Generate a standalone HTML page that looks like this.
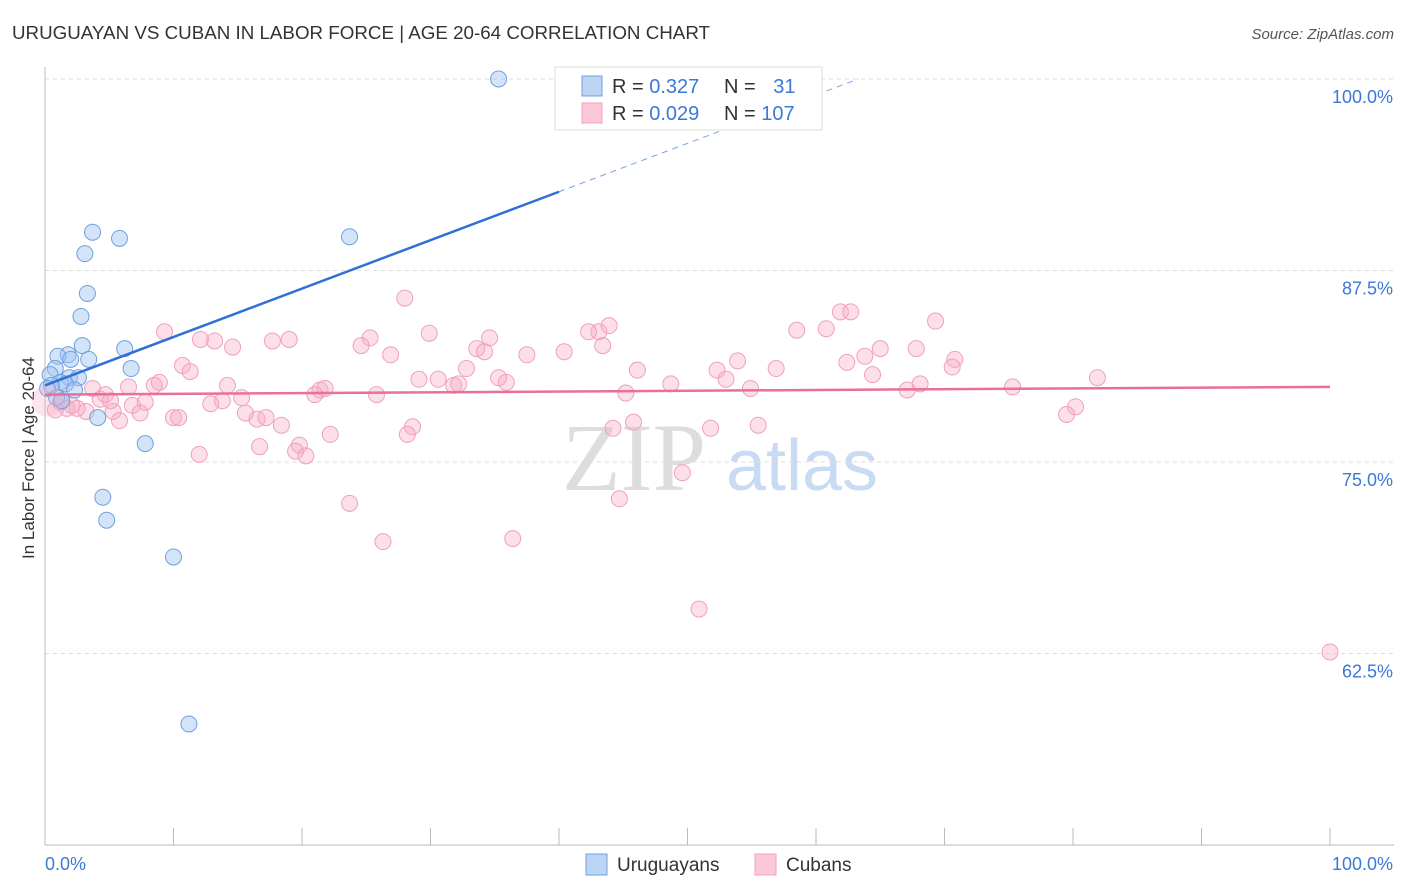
<!DOCTYPE html>
<html><head><meta charset="utf-8">
<style>
body{margin:0;background:#fff;font-family:"Liberation Sans",sans-serif;}
#wrap{position:relative;width:1406px;height:892px;overflow:hidden;}
svg{position:absolute;left:0;top:0;}
</style></head>
<body>
<div id="wrap">
<svg id="c" width="1406" height="892">
  <text x="12" y="39" font-size="18" fill="#333" textLength="698" lengthAdjust="spacingAndGlyphs" font-family="Liberation Sans, sans-serif">URUGUAYAN VS CUBAN IN LABOR FORCE | AGE 20-64 CORRELATION CHART</text>
  <text x="1394" y="39" font-size="15" fill="#555" text-anchor="end" font-style="italic">Source: ZipAtlas.com</text>
  <text x="34" y="458" font-size="17" fill="#333" text-anchor="middle" transform="rotate(-90 34 458)">In Labor Force | Age 20-64</text>
  <text x="634" y="490" font-size="96" fill="#ddd" font-family="Liberation Serif, serif" text-anchor="middle">ZIP</text>
  <text x="802" y="490" font-size="72" fill="#c9dbf2" text-anchor="middle">atlas</text>
  <g id="grid"></g>
  <g id="pts"></g>
  <g id="lines"></g>
  <g>
    <rect x="555" y="67" width="267" height="63" fill="#fff" stroke="#ddd"/>
    <rect x="582" y="76" width="20" height="20" fill="#bcd5f5" stroke="#6fa0e0"/>
    <rect x="582" y="103" width="20" height="20" fill="#fcc8d9" stroke="#f0a0bc"/>
    <text x="612" y="93" font-size="20" fill="#333">R = <tspan fill="#3b78d8">0.327</tspan></text>
    <text x="724" y="93" font-size="20" fill="#333">N = <tspan fill="#3b78d8" dx="12">31</tspan></text>
    <text x="612" y="120" font-size="20" fill="#333">R = <tspan fill="#3b78d8">0.029</tspan></text>
    <text x="724" y="120" font-size="20" fill="#333">N = <tspan fill="#3b78d8">107</tspan></text>
  </g>
  <g>
    <rect x="586" y="854" width="21" height="21" fill="#bcd5f5" stroke="#6fa0e0"/>
    <text x="617" y="871" font-size="19" fill="#333">Uruguayans</text>
    <rect x="755" y="854" width="21" height="21" fill="#fcc8d9" stroke="#f0a0bc"/>
    <text x="786" y="871" font-size="19" fill="#333">Cubans</text>
  </g>
</svg>
</div>
<script>
const yTicks=[100,87.5,75,62.5];
const yTickLabels=["100.0%","87.5%","75.0%","62.5%"];
const xTicks=[0,10,20,30,40,50,60,70,80,90,100];
const blueX=[35.3,3.7,5.8,23.7,3.1,3.3,2.8,2.9,6.2,1.8,1.0,3.4,2.0,0.8,6.7,0.4,1.9,2.6,1.2,1.6,0.5,0.2,2.3,0.9,1.3,4.1,7.8,4.5,4.8,10.0,11.2];
const blueY=[100,90.0,89.6,89.7,88.6,86.0,84.5,82.6,82.4,82.0,81.9,81.7,81.7,81.1,81.1,80.7,80.5,80.5,80.2,80.1,80.0,79.8,79.7,79.2,79.0,77.9,76.2,72.7,71.2,68.8,57.9];
const pinkX=[28.0,9.3,29.9,34.6,43.1,43.9,42.3,58.5,60.8,61.9,62.7,69.3,12.1,19.0,17.7,14.6,13.2,25.3,24.6,26.9,33.6,34.2,37.5,40.4,43.4,65.0,67.8,63.8,62.4,70.8,70.6,53.9,10.7,11.3,32.8,46.1,52.3,56.9,64.4,81.9,29.1,30.6,35.3,35.9,31.8,32.2,48.7,53.0,54.9,67.1,68.1,75.3,8.9,6.5,3.7,8.5,14.2,21.4,21.8,21.0,25.8,45.2,4.7,4.3,5.1,6.8,7.8,2.1,1.7,1.2,0.8,3.2,2.5,5.3,7.4,12.9,13.8,15.3,15.6,16.5,17.2,18.4,10.0,10.4,5.8,80.2,79.5,28.6,28.2,22.2,44.2,45.8,51.8,55.5,16.7,19.8,19.5,20.3,12.0,49.6,23.7,44.7,26.3,36.4,50.9,100];
const pinkY=[85.7,83.5,83.4,83.1,83.5,83.9,83.5,83.6,83.7,84.8,84.8,84.2,83.0,83.0,82.9,82.5,82.9,83.1,82.6,82.0,82.4,82.2,82.0,82.2,82.6,82.4,82.4,81.9,81.5,81.7,81.2,81.6,81.3,80.9,81.1,81.0,81.0,81.1,80.7,80.5,80.4,80.4,80.5,80.2,80.0,80.1,80.1,80.4,79.8,79.7,80.1,79.9,80.2,79.9,79.8,80.0,80.0,79.7,79.8,79.4,79.4,79.5,79.4,79.1,79.0,78.7,78.9,78.7,78.5,78.9,78.4,78.3,78.5,78.3,78.2,78.8,79.0,79.2,78.2,77.8,77.9,77.4,77.9,77.9,77.7,78.6,78.1,77.3,76.8,76.8,77.2,77.6,77.2,77.4,76.0,76.1,75.7,75.4,75.5,74.3,72.3,72.6,69.8,70.0,65.4,62.6];
const blueTrend=[80.0,0.316]; // intercept, slope
const pinkTrend=[79.4,0.005];
const X=v=>45+v*12.85;
const Y=v=>79+(100-v)*15.32;
const NS="http://www.w3.org/2000/svg";
function mk(tag,attrs,parent){const e=document.createElementNS(NS,tag);for(const k in attrs)e.setAttribute(k,attrs[k]);parent.appendChild(e);return e;}
const grid=document.getElementById('grid');
yTicks.forEach((t,i)=>{
  const l=mk('line',{x1:45,x2:1394,y1:Y(t),y2:Y(t),stroke:'#ddd','stroke-dasharray':'4,4'},grid);
  
  
  const tx=mk('text',{x:1393,y:Y(t)+24,'font-size':18,fill:'#3b78d8','text-anchor':'end'},grid);
  tx.textContent=yTickLabels[i];
  
  
});
const ax=mk('line',{x1:45,x2:1394,y1:845,y2:845,stroke:'#bbb'},grid);


const ay=mk('line',{x1:45,x2:45,y1:67,y2:845,stroke:'#bbb'},grid);


xTicks.forEach(t=>{
  const l=mk('line',{x1:X(t),x2:X(t),y1:828,y2:845,stroke:'#bbb'},grid);
  
  
});
const xl0=mk('text',{x:45,y:870,'font-size':18,fill:'#3b78d8'},grid);xl0.textContent='0.0%';


const xl1=mk('text',{x:1393,y:870,'font-size':18,fill:'#3b78d8','text-anchor':'end'},grid);xl1.textContent='100.0%';


const pts=document.getElementById('pts');
pinkX.forEach((x,i)=>{
  const c=mk('circle',{cx:X(x),cy:Y(pinkY[i]),r:8,fill:'rgba(247,170,196,0.38)',stroke:'#f0a0bc','stroke-width':1},pts);
  
  
});
blueX.forEach((x,i)=>{
  const c=mk('circle',{cx:X(x),cy:Y(blueY[i]),r:8,fill:'rgba(160,196,240,0.45)',stroke:'#6fa0e0','stroke-width':1},pts);
  
  
});
const big=mk('circle',{cx:X(0.2),cy:Y(79.0),r:16,fill:'rgba(247,170,196,0.3)',stroke:'none'},pts);


const lines=document.getElementById('lines');
const bAt=v=>blueTrend[0]+blueTrend[1]*v;
const pAt=v=>pinkTrend[0]+pinkTrend[1]*v;
const bl=mk('line',{x1:X(0),y1:Y(bAt(0)),x2:X(40),y2:Y(bAt(40)),stroke:'#2e6fd8','stroke-width':2.5},lines);


const xEnd=(100-blueTrend[0])/blueTrend[1];
const bd=mk('line',{x1:X(40),y1:Y(bAt(40)),x2:X(xEnd),y2:Y(bAt(xEnd)),stroke:'#7aa4e0','stroke-width':1,'stroke-dasharray':'6,5'},lines);


const pl=mk('line',{x1:X(0),y1:Y(pAt(0)),x2:X(100),y2:Y(pAt(100)),stroke:'#e8709a','stroke-width':2.5},lines);


</script>
</body></html>
